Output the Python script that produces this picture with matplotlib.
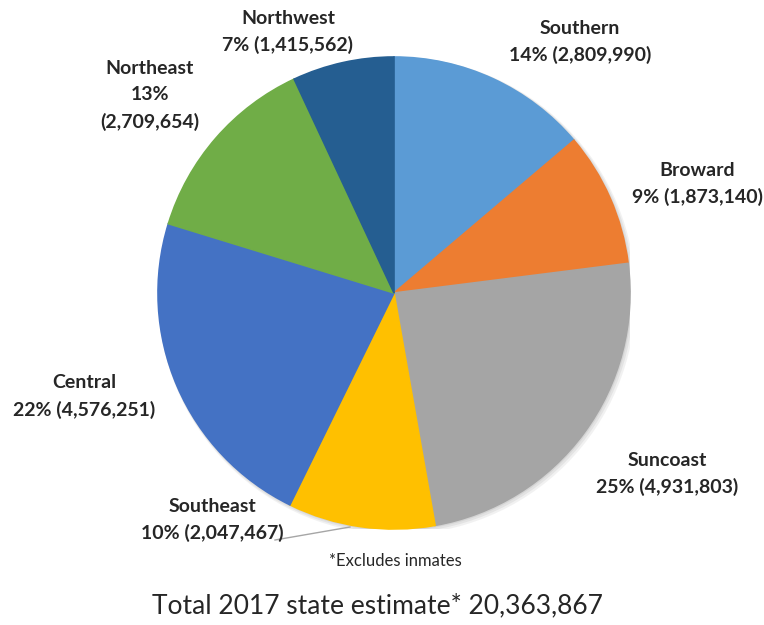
import matplotlib
matplotlib.use("Agg")
import matplotlib.pyplot as plt
from matplotlib.patches import Circle

# Regional population estimates, 2017 (clockwise from 12 o'clock)
regions = ["Southern", "Broward", "Suncoast", "Southeast", "Central", "Northeast", "Northwest"]
population = [2809990, 1873140, 4931803, 2047467, 4576251, 2709654, 1415562]
pct_labels = ["14%", "9%", "25%", "10%", "22%", "13%", "7%"]
colors = ["#5B9BD5", "#ED7D31", "#A5A5A5", "#FFC000", "#4472C4", "#70AD47", "#255E91"]
total_label = "Total 2017 state estimate* 20,363,867"
footnote = "*Excludes inmates"

W, H = 764, 625
CX, CY, R = 394, 293, 236

fig = plt.figure(figsize=(W / 100, H / 100), dpi=100)
fig.patch.set_facecolor("white")

ax = fig.add_axes([(CX - R) / W, (H - CY - R) / H, 2 * R / W, 2 * R / H])
# soft drop shadow behind the whole pie
for k, a in [(0.012, 0.10), (0.008, 0.12), (0.004, 0.14)]:
    ax.add_patch(Circle((k, -k), 1.0 + k, color="#7F7F7F", alpha=a, linewidth=0, zorder=0))
wedges, _ = ax.pie(population, colors=colors, startangle=90, counterclock=False,
                   radius=1.0, wedgeprops=dict(linewidth=1.2, zorder=2, joinstyle="miter"))
for w in wedges:
    w.set_edgecolor(w.get_facecolor())
ax.set_xlim(-1, 1)
ax.set_ylim(-1, 1)
ax.set_aspect("equal")
ax.axis("off")


def px(x, y):
    """Convert figure pixel coordinates (origin top-left) to figure fraction."""
    return x / W, 1 - y / H


label_font = dict(family=["Lato", "DejaVu Sans"], fontweight="bold", fontsize=14, color="#262626")

# label layout: (centre x, top-line y) in pixels, and whether the name is split over 3 lines
layout = {
    "Southern": (580, 28, False),
    "Broward": (697, 170, False),
    "Suncoast": (667, 460, False),
    "Southeast": (212, 506, False),
    "Central": (84, 383, False),
    "Northeast": (150, 68, True),
    "Northwest": (288, 18, False),
}
line_gap = 27
for name, val, pct in zip(regions, population, pct_labels):
    x, y, split = layout[name]
    if split:
        lines = [name, pct, f"({val:,})"]
    else:
        lines = [name, f"{pct} ({val:,})"]
    for i, s in enumerate(lines):
        fig.text(*px(x, y + i * line_gap), s, ha="center", va="center", **label_font)

# leader line for the Southeast label
fig.add_artist(plt.Line2D([275 / W, 350 / W], [1 - 540 / H, 1 - 527 / H],
                          color="#A6A6A6", linewidth=1.0, transform=fig.transFigure))

fig.text(*px(395, 561), footnote, ha="center", va="center",
         family=["Lato", "DejaVu Sans"], fontsize=12, color="#262626")
fig.text(*px(377, 606), total_label, ha="center", va="center",
         family=["Lato", "DejaVu Sans"], fontweight="normal", fontsize=19, color="#262626")

fig.savefig("out.png", dpi=100, facecolor="white")
